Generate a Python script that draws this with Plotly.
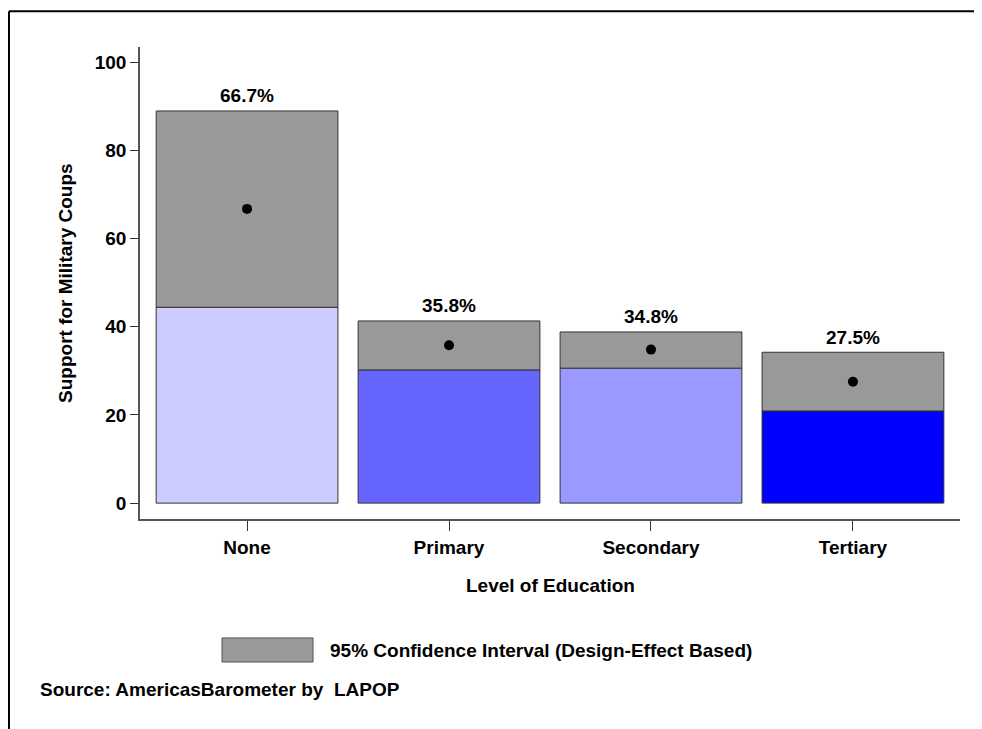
import plotly.graph_objects as go

categories = ["None", "Primary", "Secondary", "Tertiary"]
means = [66.7, 35.8, 34.8, 27.5]
ci_lower = [44.4, 30.2, 30.6, 20.9]
ci_upper = [88.9, 41.3, 38.8, 34.2]
bar_colors = ["#CCCCFF", "#6666FF", "#9999FF", "#0000FF"]
value_labels = ["66.7%", "35.8%", "34.8%", "27.5%"]
y_ticks = [0, 20, 40, 60, 80, 100]

FONT = "Liberation Sans, Arial, sans-serif"
fs = 19

xs = list(range(len(categories)))

fig = go.Figure()
fig.add_trace(go.Bar(
    x=xs, y=ci_lower, width=0.9,
    marker=dict(color=bar_colors, line=dict(color="#333333", width=1)),
    showlegend=False, hoverinfo="skip"))
fig.add_trace(go.Bar(
    x=xs, y=[u - l for u, l in zip(ci_upper, ci_lower)], base=ci_lower, width=0.9,
    marker=dict(color="#999999", line=dict(color="#333333", width=1)),
    showlegend=False, hoverinfo="skip"))
fig.add_trace(go.Scatter(
    x=xs, y=means, mode="markers",
    marker=dict(color="black", size=10),
    showlegend=False, hoverinfo="skip"))

for x, u, t in zip(xs, ci_upper, value_labels):
    fig.add_annotation(x=x, y=u, text=t, showarrow=False, yshift=15,
                       yanchor="middle",
                       font=dict(family=FONT, size=fs, color="black", weight="bold"))

fig.update_layout(
    width=982, height=729,
    margin=dict(l=132, r=30, t=39, b=218),
    paper_bgcolor="white", plot_bgcolor="white",
    barmode="overlay", bargap=0.1,
    font=dict(family=FONT, size=fs, color="black", weight="bold"),
)
fig.update_xaxes(
    range=[-0.53, 3.53], tickmode="array", tickvals=xs, ticktext=categories,
    showline=True, linecolor="#555555", linewidth=1.5,
    ticks="outside", ticklen=10, tickcolor="#333333", tickwidth=1,
    showgrid=False, zeroline=False,
    tickfont=dict(family=FONT, size=fs, color="black", weight="bold"))
fig.update_yaxes(
    range=[-3.6, 103.4], tickmode="array", tickvals=y_ticks,
    showline=True, linecolor="#555555", linewidth=1.5,
    ticks="outside", ticklen=8, tickcolor="#333333", tickwidth=1,
    showgrid=False, zeroline=False,
    tickfont=dict(family=FONT, size=fs, color="black", weight="bold"))

# axis titles
fig.add_annotation(xref="paper", yref="paper", x=0.5, y=-0.14, text="Level of Education",
                   showarrow=False, yanchor="middle",
                   font=dict(family=FONT, size=fs, color="black", weight="bold"))
fig.add_annotation(xref="paper", yref="paper", x=-0.0915, y=0.5, text="Support for Military Coups",
                   showarrow=False, textangle=-90, xanchor="center", yanchor="middle",
                   font=dict(family=FONT, size=fs, color="black", weight="bold"))

# legend
fig.add_shape(type="rect", xref="paper", yref="paper", x0=0.1, x1=0.211, y0=-0.303, y1=-0.252,
              fillcolor="#999999", line=dict(color="#555555", width=1))
fig.add_annotation(xref="paper", yref="paper", x=0.229, y=-0.278,
                   text="95% Confidence Interval (Design-Effect Based)",
                   showarrow=False, xanchor="left", yanchor="middle",
                   font=dict(family=FONT, size=fs, color="black", weight="bold"))
fig.add_annotation(xref="paper", yref="paper", x=-0.124, y=-0.362,
                   text="Source: AmericasBarometer by  LAPOP",
                   showarrow=False, xanchor="left", yanchor="middle",
                   font=dict(family=FONT, size=fs, color="black", weight="bold"))

# frame
fig.add_shape(type="line", xref="paper", yref="paper", x0=-0.1598, x1=1.05, y0=1.076, y1=1.076,
              line=dict(color="black", width=2))
fig.add_shape(type="line", xref="paper", yref="paper", x0=-0.1598, x1=-0.1598, y0=1.076, y1=-0.47,
              line=dict(color="black", width=2))

fig.write_html("out.html")
